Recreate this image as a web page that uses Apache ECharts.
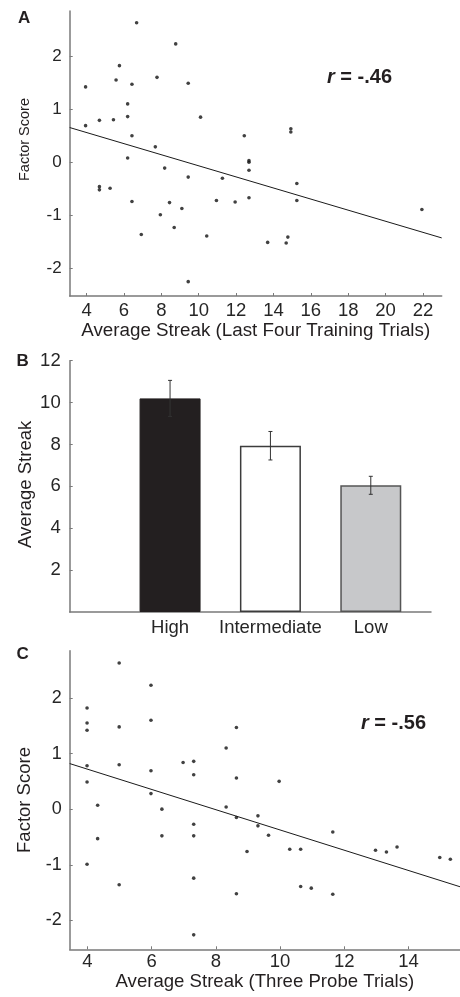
<!DOCTYPE html>
<html>
<head>
<meta charset="utf-8">
<script src="https://cdn.jsdelivr.net/npm/echarts@6/dist/echarts.min.js"></script>
<style>
  html, body { margin: 0; padding: 0; background: #ffffff; }
  #chart { width: 460px; height: 997px; }
</style>
</head>
<body>
<div id="chart"></div>
<script>
// Panel A: streak over the last four training trials vs. factor score
const streakA = [6.68, 8.77, 5.76, 5.58, 6.43, 7.77, 9.44, 3.95, 6.20, 6.20, 10.1, 3.95, 4.69, 5.44, 6.43, 7.68, 6.20, 8.18,
  12.44, 14.93, 14.93, 12.69, 12.69, 12.69, 12.69, 9.44, 11.27, 4.69, 4.69, 5.26, 6.43, 8.44, 10.95, 9.10, 7.95, 8.69,
  6.93, 10.43, 9.44, 11.95, 15.25, 15.25, 13.69, 14.68, 14.77, 21.94];
const factorA = [2.63, 2.23, 1.82, 1.55, 1.47, 1.60, 1.49, 1.42, 1.10, 0.86, 0.85, 0.69, 0.79, 0.80, 0.50, 0.29, 0.08, -0.11,
  0.50, 0.63, 0.57, 0.03, 0.00, -0.15, -0.67, -0.28, -0.30, -0.46, -0.52, -0.49, -0.74, -0.76, -0.72, -0.87, -0.99, -1.23,
  -1.36, -1.39, -2.25, -0.75, -0.40, -0.72, -1.51, -1.52, -1.41, -0.89];
const fitA = [0.978, -0.1045];          // intercept, slope
const rTextA = '-.46';

// Panel B: mean streak by group with standard errors
const groups = ['High', 'Intermediate', 'Low'];
const groupMeans = [10.2, 7.94, 6.05];
const groupErr = [0.86, 0.68, 0.43];

// Panel C: streak over the three probe trials vs. factor score
const streakC = [4.99, 5.98, 3.99, 3.99, 3.99, 4.99, 5.98, 8.32, 3.99, 4.99, 5.98, 6.98, 7.31, 7.31, 3.99, 5.98, 4.32, 6.32,
  8.32, 7.31, 8.64, 8.64, 9.97, 8.64, 9.31, 9.31, 7.31, 6.32, 4.32, 3.99, 4.99, 7.31, 7.31, 9.64, 8.97, 10.30, 10.64,
  11.64, 12.97, 13.31, 13.64, 14.97, 15.30, 8.64, 10.64, 10.97, 11.64];
const factorC = [2.63, 2.23, 1.82, 1.55, 1.42, 1.48, 1.60, 1.10, 0.78, 0.80, 0.69, 0.84, 0.86, 0.62, 0.49, 0.28, 0.07, 0.00,
  0.04, -0.27, 1.47, 0.56, 0.50, -0.15, -0.12, -0.30, -0.48, -0.48, -0.53, -0.99, -1.36, -1.24, -2.26, -0.47, -0.76, -0.72,
  -0.72, -0.41, -0.74, -0.77, -0.68, -0.87, -0.90, -1.52, -1.39, -1.42, -1.53];
const fitC = [1.449, -0.1823];
const rTextC = '-.56';

// Tick labels
const factorTicks = [-2, -1, 0, 1, 2];
const streakTicksA = [4, 6, 8, 10, 12, 14, 16, 18, 20, 22];
const streakTicksC = [4, 6, 8, 10, 12, 14];
const barTicks = [2, 4, 6, 8, 10, 12];

const rangeA = [3.1, 23];
const rangeC = [3.45, 15.6];
const factorRange = [-2.52, 2.85];

const FONT = 'Liberation Sans, Arial, Helvetica, sans-serif';
const TXT = '#231f20';
const LBL = '#262626';
const AXIS = '#7a7a7a';

function pairs(xs, ys) { return xs.map((x, i) => [x, ys[i]]); }
function fitLine(fit, range) { return range.map(x => [x, fit[0] + fit[1] * x]); }

const axisLine = { show: true, onZero: false, lineStyle: { color: AXIS, width: 1.5 } };
const tickIn = vals => ({ show: true, inside: true, length: 3, lineStyle: { color: AXIS, width: 1 }, customValues: vals });

function valueAxis(extra) {
  return Object.assign({
    type: 'value',
    splitLine: { show: false },
    axisLine: axisLine,
    nameLocation: 'middle',
    nameMoveOverlap: false,
    nameTextStyle: { fontFamily: FONT, color: TXT, fontSize: 18.5 }
  }, extra);
}

const chart = echarts.init(document.getElementById('chart'), null, { renderer: 'canvas' });

const option = {
  backgroundColor: '#ffffff',
  animation: false,
  textStyle: { fontFamily: FONT },
  grid: [
    { left: 69.7, top: 11, width: 372, height: 285, outerBoundsMode: 'none' },
    { left: 69.7, top: 360.7, width: 361.3, height: 251.3, outerBoundsMode: 'none' },
    { left: 69.7, top: 650.7, width: 390.3, height: 298.6, outerBoundsMode: 'none' }
  ],
  xAxis: [
    valueAxis({
      gridIndex: 0, min: rangeA[0], max: rangeA[1],
      axisTick: tickIn(streakTicksA),
      axisLabel: { customValues: streakTicksA, margin: 5, fontSize: 18.5, color: LBL, fontFamily: FONT },
      name: 'Average Streak (Last Four Training Trials)', nameGap: 25,
      nameTextStyle: { fontFamily: FONT, color: TXT, fontSize: 18.8 }
    }),
    valueAxis({
      gridIndex: 1, min: 0, max: 3.6,
      axisTick: { show: false },
      axisLabel: {
        customValues: [1, 2, 3], margin: 6, fontSize: 18.5, color: LBL, fontFamily: FONT,
        formatter: v => groups[Math.round(v) - 1] || ''
      }
    }),
    valueAxis({
      gridIndex: 2, min: rangeC[0], max: rangeC[1],
      axisTick: tickIn(streakTicksC),
      axisLabel: { customValues: streakTicksC, margin: 3, fontSize: 18.5, color: LBL, fontFamily: FONT },
      name: 'Average Streak (Three Probe Trials)', nameGap: 23,
      nameTextStyle: { fontFamily: FONT, color: TXT, fontSize: 18.6 }
    })
  ],
  yAxis: [
    valueAxis({
      gridIndex: 0, min: factorRange[0], max: factorRange[1],
      axisTick: tickIn(factorTicks),
      axisLabel: { customValues: factorTicks, margin: 8, fontSize: 17, color: LBL, fontFamily: FONT },
      name: 'Factor Score', nameGap: 37,
      nameTextStyle: { fontFamily: FONT, color: TXT, fontSize: 14.5, padding: [0, 0, 0, 28] }
    }),
    valueAxis({
      gridIndex: 1, min: 0, max: 12,
      axisTick: tickIn(barTicks),
      axisLabel: { customValues: barTicks, margin: 9, fontSize: 18.5, color: LBL, fontFamily: FONT },
      name: 'Average Streak', nameGap: 34,
      nameTextStyle: { fontFamily: FONT, color: TXT, fontSize: 18.5, padding: [0, 0, 0, 4] }
    }),
    valueAxis({
      gridIndex: 2, min: factorRange[0], max: factorRange[1],
      axisTick: tickIn(factorTicks),
      axisLabel: { customValues: factorTicks, margin: 8, fontSize: 18, color: LBL, fontFamily: FONT },
      name: 'Factor Score', nameGap: 35
    })
  ],
  series: [
    {
      type: 'line', xAxisIndex: 0, yAxisIndex: 0, data: fitLine(fitA, rangeA),
      showSymbol: false, silent: true, lineStyle: { color: '#1a1a1a', width: 1 }
    },
    {
      type: 'scatter', xAxisIndex: 0, yAxisIndex: 0, data: pairs(streakA, factorA),
      symbolSize: 3.6, itemStyle: { color: '#111111' }
    },
    {
      type: 'bar', xAxisIndex: 1, yAxisIndex: 1, barWidth: 61,
      data: groupMeans.map((m, i) => ({
        value: [i + 1, m],
        itemStyle: [
          { color: '#231f20', borderColor: '#231f20', borderWidth: 1 },
          { color: '#ffffff', borderColor: '#3c3c3c', borderWidth: 1.5 },
          { color: '#c7c8ca', borderColor: '#555555', borderWidth: 1.5 }
        ][i]
      }))
    },
    {
      type: 'custom', xAxisIndex: 1, yAxisIndex: 1,
      data: groupMeans.map((m, i) => [i + 1, m - groupErr[i], m + groupErr[i]]),
      renderItem: function (params, api) {
        const lo = api.coord([api.value(0), api.value(1)]);
        const hi = api.coord([api.value(0), api.value(2)]);
        const cap = 2;
        const style = { stroke: '#333333', lineWidth: 1 };
        return {
          type: 'group',
          children: [
            { type: 'line', shape: { x1: lo[0], y1: lo[1], x2: hi[0], y2: hi[1] }, style: style },
            { type: 'line', shape: { x1: lo[0] - cap, y1: lo[1], x2: lo[0] + cap, y2: lo[1] }, style: style },
            { type: 'line', shape: { x1: hi[0] - cap, y1: hi[1], x2: hi[0] + cap, y2: hi[1] }, style: style }
          ]
        };
      },
      z: 5
    },
    {
      type: 'line', xAxisIndex: 2, yAxisIndex: 2, data: fitLine(fitC, rangeC),
      showSymbol: false, silent: true, lineStyle: { color: '#1a1a1a', width: 1 }
    },
    {
      type: 'scatter', xAxisIndex: 2, yAxisIndex: 2, data: pairs(streakC, factorC),
      symbolSize: 3.6, itemStyle: { color: '#111111' }
    }
  ],
  graphic: [
    { type: 'text', x: 18, y: 18, style: { text: 'A', font: 'bold 17px ' + FONT, fill: TXT, verticalAlign: 'middle' } },
    { type: 'text', x: 16.5, y: 361, style: { text: 'B', font: 'bold 17px ' + FONT, fill: TXT, verticalAlign: 'middle' } },
    { type: 'text', x: 16.5, y: 654, style: { text: 'C', font: 'bold 17px ' + FONT, fill: TXT, verticalAlign: 'middle' } },
    {
      type: 'text', x: 327, y: 77,
      style: {
        text: '{i|r}{b| = ' + rTextA + '}', verticalAlign: 'middle', fill: TXT,
        rich: {
          i: { font: 'italic bold 20px ' + FONT, fill: TXT },
          b: { font: 'bold 20px ' + FONT, fill: TXT }
        }
      }
    },
    {
      type: 'text', x: 361, y: 723,
      style: {
        text: '{i|r}{b| = ' + rTextC + '}', verticalAlign: 'middle', fill: TXT,
        rich: {
          i: { font: 'italic bold 20px ' + FONT, fill: TXT },
          b: { font: 'bold 20px ' + FONT, fill: TXT }
        }
      }
    }
  ]
};

chart.setOption(option);
</script>
</body>
</html>
